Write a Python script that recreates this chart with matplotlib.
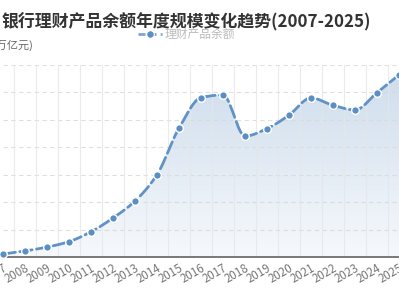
import matplotlib
matplotlib.use("Agg")
import matplotlib.pyplot as plt
import numpy as np
from matplotlib.patches import Polygon
from matplotlib.colors import LinearSegmentedColormap

plt.rcParams['font.family'] = ['Noto Sans CJK SC', 'DejaVu Sans']

# data: bank wealth-management balance, trillion yuan
years = [2007, 2008, 2009, 2010, 2011, 2012, 2013, 2014, 2015, 2016,
         2017, 2018, 2019, 2020, 2021, 2022, 2023, 2024, 2025]
balance = [0.53, 1.1, 1.8, 2.8, 4.6, 7.1, 10.2, 15.0, 23.5, 29.05,
           29.54, 22.04, 23.4, 25.86, 29.0, 27.65, 26.8, 29.95, 33.2]
year_labels = [str(y) for y in years]

title = "银行理财产品余额年度规模变化趋势(2007-2025)"
series_name = "理财产品余额"
unit = "(万亿元)"


def pchip(x, y, xs):
    x = np.asarray(x, float)
    y = np.asarray(y, float)
    h = np.diff(x)
    d = np.diff(y) / h
    m = np.zeros_like(y)
    for k in range(1, len(y) - 1):
        if d[k - 1] * d[k] > 0:
            w1 = 2 * h[k] + h[k - 1]
            w2 = h[k] + 2 * h[k - 1]
            m[k] = (w1 + w2) / (w1 / d[k - 1] + w2 / d[k])
    m[0] = d[0]
    m[-1] = d[-1]
    idx = np.clip(np.searchsorted(x, xs) - 1, 0, len(x) - 2)
    t = (xs - x[idx]) / h[idx]
    h00 = 2 * t**3 - 3 * t**2 + 1
    h10 = t**3 - 2 * t**2 + t
    h01 = -2 * t**3 + 3 * t**2
    h11 = t**3 - t**2
    return h00 * y[idx] + h10 * h[idx] * m[idx] + h01 * y[idx + 1] + h11 * h[idx] * m[idx + 1]


fig = plt.figure(figsize=(3.99, 3.0), dpi=100)
ax = fig.add_axes([3 / 399, 43 / 300, 396 / 399, 192 / 300])
ax.set_xlim(2007, 2025)
ax.set_ylim(0, 35)

xs = np.linspace(years[0], years[-1], 600)
ys = pchip(years, balance, xs)

# gradient fill under the curve
grad = np.linspace(0, 1, 256).reshape(-1, 1)
cmap = LinearSegmentedColormap.from_list("g", ["#f6f9fc", "#cddcec"])
img = ax.imshow(grad, cmap=cmap, aspect='auto', origin='lower',
                extent=[2007, 2025, 0, 35], zorder=1)
poly = Polygon(np.column_stack([np.r_[xs, xs[-1], xs[0]], np.r_[ys, 0, 0]]),
               closed=True, facecolor='none', edgecolor='none')
ax.add_patch(poly)
img.set_clip_path(poly)

# grid
for v in range(5, 36, 5):
    ax.axhline(v, color='#d8d8d8', lw=0.8, ls=(0, (4, 3)), zorder=1.5, alpha=0.8)
for yv in years[:-1]:
    ax.axvline(yv + 0.5, color='#e6e6e6', lw=0.8, zorder=1.5, alpha=0.8)

ax.plot(xs, ys, color='#6092c6', lw=2.0, ls=(0, (4.5, 1.6)), zorder=3,
        dash_capstyle='round')
ax.plot(years, balance, ls='none', marker='o', ms=5.5, mfc='#5b8ec4',
        mec='white', mew=1.0, zorder=4, clip_on=False)

for s in ['top', 'right', 'left']:
    ax.spines[s].set_visible(False)
ax.spines['bottom'].set_color('#6e6e6e')
ax.spines['bottom'].set_linewidth(1.3)
ax.set_yticks([])
ax.set_xticks(years)
ax.set_xticklabels(year_labels, rotation=30, ha='right',
                   rotation_mode='anchor', fontsize=8.3, color='#777777')
ax.tick_params(axis='x', length=0, pad=3.5)

fig.text(2 / 399, 1 - 22 / 300, title, fontsize=12.2, fontweight='bold',
         color='#333333', ha='left', va='center')
# legend
lx, ly = 150 / 399, 1 - 34 / 300
fig.add_artist(plt.Line2D([lx - 12 / 399, lx + 12 / 399], [ly, ly],
                          color='#7fa5d3', lw=2, ls=(0, (2.5, 1.5))))
fig.add_artist(plt.Line2D([lx], [ly], marker='o', ms=5.5, color='#5b8ec4',
                          mec='white', mew=0.8))
fig.text(165 / 399, ly, series_name, fontsize=8.5, color='#bbbbbb',
         ha='left', va='center')
fig.text(-8 / 399, 1 - 45 / 300, unit, fontsize=8, color='#666666',
         ha='left', va='center')

fig.savefig("out.png", dpi=100, facecolor='white')
